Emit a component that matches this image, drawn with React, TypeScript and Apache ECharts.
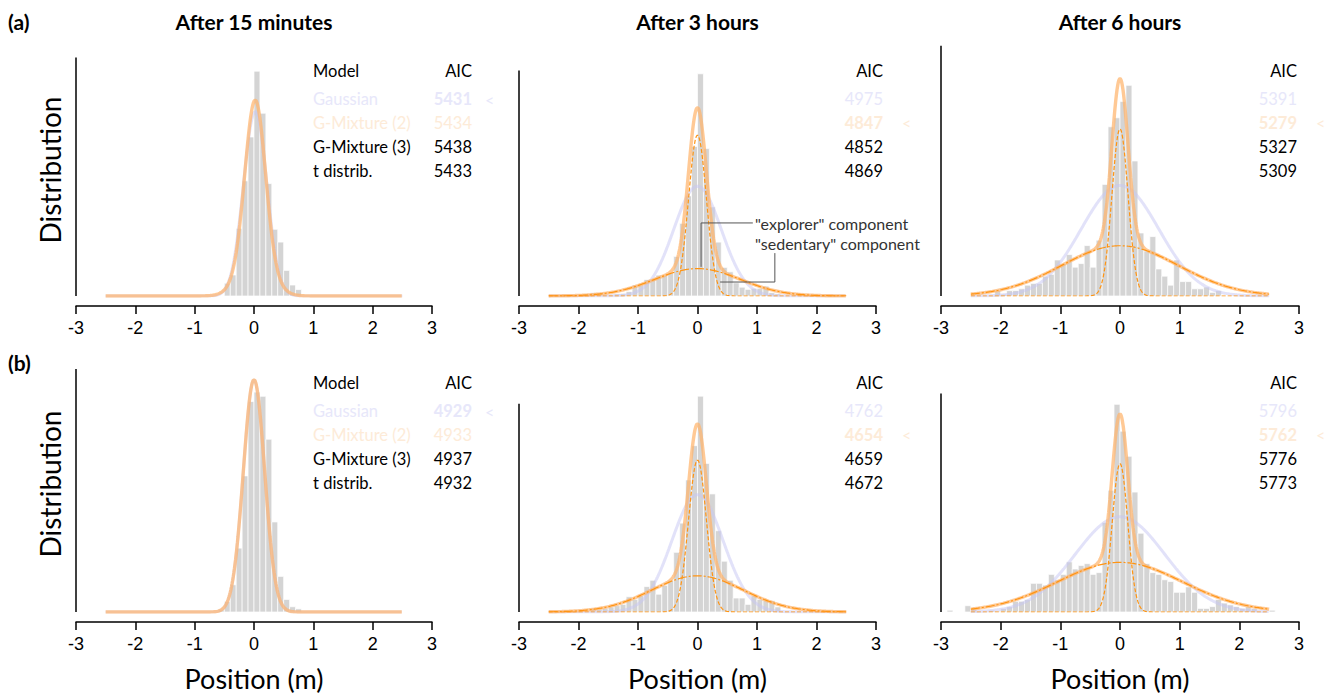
import React, { useEffect, useRef } from "react";
import * as echarts from "echarts";

// ---------------- data ----------------
const panelTitles = ["After 15 minutes", "After 3 hours", "After 6 hours"];
const rowLabels = ["(a)", "(b)"];
const modelNames = ["Gaussian", "G-Mixture (2)", "G-Mixture (3)", "t distrib."];
const xTickMin = -3;
const xTickMax = 3;
const curveMin = -2.5;
const curveMax = 2.5;
const binWidth = 0.1;

// AIC values, panel order: a1, a2, a3, b1, b2, b3
const aicValues = [
  [5431, 5434, 5438, 5433],
  [4975, 4847, 4852, 4869],
  [5391, 5279, 5327, 5309],
  [4929, 4933, 4937, 4932],
  [4762, 4654, 4659, 4672],
  [5796, 5762, 5776, 5773],
];

// histogram densities (bin width 0.1), first bin left edge in histStart
const histStart = [-0.5, -1.9, -2.1, -0.6, -1.8, -2.9];
const histA1 = [0.14, 0.23, 0.74, 1.26, 1.74, 2.46, 2.0, 1.23, 0.73, 0.59, 0.28, 0.12, 0.07];
const histA2 = [
  0.02, 0.03, 0.03, 0.01, 0.01, 0.02, 0.02, 0.04, 0.1, 0.1, 0.15, 0.15, 0.19, 0.19, 0.21, 0.36,
  0.66, 0.91, 1.36, 2.02, 1.34, 0.81, 0.49, 0.26, 0.22, 0.12, 0.08, 0.06, 0.07, 0.07, 0.09, 0.03, 0.02,
];
const histA3 = [
  0.03, 0.01, 0.03, 0.03, 0.04, 0.06, 0.07, 0.07, 0.11, 0.12, 0.2, 0.18, 0.23, 0.16, 0.18, 0.28,
  0.16, 0.31, 0.62, 0.94, 0.99, 1.08, 1.17, 0.75, 0.35, 0.25, 0.33, 0.15, 0.11, 0.06, 0.2, 0.08,
  0.08, 0.04, 0.04, 0.05, 0.02, 0.03,
];
const histB1 = [0.02, 0.1, 0.26, 0.61, 1.3, 2.01, 2.1, 2.06, 1.65, 0.86, 0.34, 0.12, 0.05, 0.03];
const histB2 = [
  0.03, 0.02, 0.03, 0.04, 0.05, 0.06, 0.12, 0.1, 0.13, 0.2, 0.25, 0.14, 0.21, 0.25, 0.47, 0.7,
  1.04, 1.31, 1.7, 1.17, 0.93, 0.64, 0.4, 0.25, 0.11, 0.11, 0.06, 0.13, 0.1, 0.09, 0.09, 0.04,
];
const histB3 = [
  0.01, 0, 0, 0.035, 0.02, 0, 0, 0.01, 0.005, 0.02, 0.03, 0.06, 0.06, 0.07, 0.16, 0.16, 0.15,
  0.21, 0.18, 0.21, 0.28, 0.24, 0.26, 0.27, 0.21, 0.22, 0.5, 0.68, 1.16, 1.01, 0.87, 0.67, 0.44,
  0.27, 0.22, 0.21, 0.18, 0.17, 0.11, 0.11, 0.14, 0.11, 0.02, 0.02, 0.03, 0.07, 0.05, 0.04, 0.03,
  0.02, 0.03, 0.02, 0, 0, 0.01,
];
const histograms = [histA1, histA2, histA3, histB1, histB2, histB3];

// fitted model parameters
const gaussMean = [0.02, 0, 0, 0, 0, 0];
const gaussSd = [0.198, 0.4, 0.65, 0.18, 0.432, 0.75];
const mixMean = [0.02, 0, 0, 0, 0, 0];
const mixWeight = [
  [0.75, 0.25],
  [0.55, 0.45],
  [0.314, 0.686],
  [0.5, 0.5],
  [0.45, 0.55],
  [0.27, 0.73],
];
const mixSd = [
  [0.17, 0.26],
  [0.15, 0.72],
  [0.135, 0.98],
  [0.175, 0.185],
  [0.15, 0.77],
  [0.13, 1.05],
];
const showComponents = [false, true, true, false, true, true];

// y-axis extents (density units)
const yAxisMax = [2.801, 2.327, 1.422, 2.445, 2.016, 1.43];
const yLineTop = [2.61, 2.05, 1.39, 2.32, 1.64, 1.22];

// annotation leaders in panel a2 (data coords)
const explorerLeader = [
  [0.06, 0.265],
  [0.06, 0.664],
  [0.93, 0.664],
];
const sedentaryLeader = [
  [0.38, 0.127],
  [1.3, 0.127],
  [1.3, 0.39],
];

// ---------------- layout ----------------
const panelLeft = [76, 519, 941];
const panelWidth = [356, 357, 358];
const rowBase = [296, 612];
const gridTop = [40, 356];
const tableHeaderY = [71, 383];
const tableRowDy = [28, 51.5, 76, 99.5];
const nameX = 313;
const aicRight = [472, 883, 1297];
const markX = [485, 902, 1316];

const FONT = "Lato, 'Noto Sans', sans-serif";
const rowTextColors = ["#e7e7fa", "#fdebd8", "#000", "#000"];

function normPdf(x: number, m: number, s: number) {
  return Math.exp(-((x - m) * (x - m)) / (2 * s * s)) / (s * Math.sqrt(2 * Math.PI));
}

function curvePoints(fn: (x: number) => number) {
  const pts: number[][] = [];
  const n = 500;
  for (let i = 0; i <= n; i++) {
    const x = curveMin + ((curveMax - curveMin) * i) / n;
    pts.push([x, fn(x)]);
  }
  return pts;
}

function buildOption() {
  const grids: any[] = [];
  const xAxes: any[] = [];
  const yAxes: any[] = [];
  const series: any[] = [];
  const graphics: any[] = [];

  for (let p = 0; p < 6; p++) {
    const row = Math.floor(p / 3);
    const col = p % 3;
    grids.push({
      left: panelLeft[col],
      width: panelWidth[col],
      top: gridTop[row],
      height: rowBase[row] - gridTop[row],
    });
    xAxes.push({
      gridIndex: p,
      type: "value",
      min: xTickMin,
      max: xTickMax,
      interval: 1,
      offset: 10,
      splitLine: { show: false },
      axisLine: { show: true, onZero: false, lineStyle: { color: "#000", width: 1.5 } },
      axisTick: { show: true, length: 8, lineStyle: { color: "#000", width: 1.5 } },
      axisLabel: {
        color: "#000",
        fontSize: 18,
        fontFamily: "'Liberation Sans', Arial, sans-serif",
        margin: 13,
      },
    });
    yAxes.push({
      gridIndex: p,
      type: "value",
      min: 0,
      max: yAxisMax[p],
      show: false,
    });

    const hist = histograms[p];
    const histData = hist
      .map((h, i) => [histStart[p] + i * binWidth, h])
      .filter((d) => d[1] > 0);
    series.push({
      type: "custom",
      xAxisIndex: p,
      yAxisIndex: p,
      data: histData,
      encode: { x: 0, y: 1 },
      silent: true,
      z: 1,
      renderItem: (params: any, api: any) => {
        const x0 = api.value(0);
        const h = api.value(1);
        const a = api.coord([x0, 0]);
        const b = api.coord([x0 + binWidth, h]);
        return {
          type: "rect",
          shape: { x: a[0], y: b[1], width: b[0] - a[0], height: a[1] - b[1] },
          style: { fill: "#d4d4d4", stroke: "#ffffff", lineWidth: 0.7 },
        };
      },
    });

    // Gaussian fit
    series.push({
      type: "line",
      xAxisIndex: p,
      yAxisIndex: p,
      data: curvePoints((x) => normPdf(x, gaussMean[p], gaussSd[p])),
      showSymbol: false,
      silent: true,
      z: 2,
      lineStyle: { color: "#c6c6f4", width: 3, opacity: 0.5 },
    });
    // 2-component mixture
    const w = mixWeight[p];
    const s = mixSd[p];
    series.push({
      type: "line",
      xAxisIndex: p,
      yAxisIndex: p,
      data: curvePoints(
        (x) => w[0] * normPdf(x, mixMean[p], s[0]) + w[1] * normPdf(x, mixMean[p], s[1])
      ),
      showSymbol: false,
      silent: true,
      z: 3,
      lineStyle: { color: "#ffb46c", width: 3.4, opacity: 0.72 },
    });
    if (showComponents[p]) {
      series.push({
        type: "line",
        xAxisIndex: p,
        yAxisIndex: p,
        data: curvePoints((x) => w[0] * normPdf(x, mixMean[p], s[0])),
        showSymbol: false,
        silent: true,
        z: 4,
        lineStyle: { color: "#ff9412", width: 1.2, type: [4, 2] },
      });
      series.push({
        type: "line",
        xAxisIndex: p,
        yAxisIndex: p,
        data: curvePoints((x) => w[1] * normPdf(x, mixMean[p], s[1])),
        showSymbol: false,
        silent: true,
        z: 4,
        lineStyle: { color: "#ff9412", width: 1.2, type: [9, 2, 2, 2] },
      });
    }
    // y axis line from 0 to its top
    series.push({
      type: "line",
      xAxisIndex: p,
      yAxisIndex: p,
      data: [
        [xTickMin, 0],
        [xTickMin, yLineTop[p]],
      ],
      showSymbol: false,
      silent: true,
      clip: false,
      z: 5,
      lineStyle: { color: "#000", width: 1.5 },
    });
    if (p === 1) {
      [explorerLeader, sedentaryLeader].forEach((ld) => {
        series.push({
          type: "line",
          xAxisIndex: p,
          yAxisIndex: p,
          data: ld,
          showSymbol: false,
          silent: true,
          z: 6,
          lineStyle: { color: "#555", width: 1 },
        });
      });
    }

    // AIC table
    const aic = aicValues[p];
    const best = aic.indexOf(Math.min(...aic));
    const hy = tableHeaderY[row];
    if (col === 0) {
      graphics.push({
        type: "text",
        x: nameX,
        y: hy,
        style: {
          text: "Model",
          fontSize: 16.5,
          fontFamily: FONT,
          fill: "#000",
          textVerticalAlign: "middle",
        },
      });
    }
    graphics.push({
      type: "text",
      x: aicRight[col],
      y: hy,
      style: {
        text: "AIC",
        fontSize: 16.5,
        fontFamily: FONT,
        fill: "#000",
        textAlign: "right",
        textVerticalAlign: "middle",
      },
    });
    aic.forEach((v, i) => {
      const y = hy + tableRowDy[i];
      if (col === 0) {
        graphics.push({
          type: "text",
          x: nameX,
          y,
          style: {
            text: modelNames[i],
            fontSize: 16.5,
            fontFamily: FONT,
            fill: rowTextColors[i],
            textVerticalAlign: "middle",
          },
        });
      }
      graphics.push({
        type: "text",
        x: aicRight[col],
        y,
        style: {
          text: String(v),
          fontSize: 16.5,
          fontFamily: FONT,
          fontWeight: i === best ? "bold" : "normal",
          fill: rowTextColors[i],
          textAlign: "right",
          textVerticalAlign: "middle",
        },
      });
      if (i === best) {
        graphics.push({
          type: "text",
          x: markX[col],
          y,
          style: {
            text: "<",
            fontSize: 16,
            fontFamily: FONT,
            fill: rowTextColors[i],
            textVerticalAlign: "middle",
          },
        });
      }
    });
  }

  // titles
  panelTitles.forEach((t, c) => {
    graphics.push({
      type: "text",
      x: panelLeft[c] + panelWidth[c] / 2,
      y: 21,
      style: {
        text: t,
        fontSize: 21,
        fontWeight: "bold",
        fontFamily: FONT,
        fill: "#000",
        textAlign: "center",
        textVerticalAlign: "middle",
      },
    });
    graphics.push({
      type: "text",
      x: panelLeft[c] + panelWidth[c] / 2,
      y: 678,
      style: {
        text: "Position (m)",
        fontSize: 27,
        fontFamily: FONT,
        fill: "#000",
        textAlign: "center",
        textVerticalAlign: "middle",
      },
    });
  });
  const rowLabelY = [21, 362];
  const distY = [170, 484];
  rowLabels.forEach((t, r) => {
    graphics.push({
      type: "text",
      x: 8,
      y: rowLabelY[r],
      style: {
        text: t,
        fontSize: 21,
        fontWeight: "bold",
        fontFamily: FONT,
        fill: "#000",
        textVerticalAlign: "middle",
      },
    });
    graphics.push({
      type: "text",
      x: 50,
      y: distY[r],
      rotation: Math.PI / 2,
      style: {
        text: "Distribution",
        fontSize: 28,
        fontFamily: FONT,
        fill: "#000",
        textAlign: "center",
        textVerticalAlign: "middle",
      },
    });
  });

  graphics.push({
    type: "text",
    x: 755,
    y: 223,
    style: {
      text: '"explorer" component',
      fontSize: 16,
      fontFamily: FONT,
      fill: "#333",
      textVerticalAlign: "middle",
    },
  });
  graphics.push({
    type: "text",
    x: 755,
    y: 243,
    style: {
      text: '"sedentary" component',
      fontSize: 16,
      fontFamily: FONT,
      fill: "#333",
      textVerticalAlign: "middle",
    },
  });

  return {
    animation: false,
    backgroundColor: "#fff",
    grid: grids,
    xAxis: xAxes,
    yAxis: yAxes,
    series,
    graphic: graphics,
  };
}

export default function App() {
  const ref = useRef<HTMLDivElement>(null);
  useEffect(() => {
    if (!ref.current) return;
    const chart = echarts.init(ref.current, null, { renderer: "svg" });
    chart.setOption(buildOption() as any);
    return () => chart.dispose();
  }, []);
  return (
    <div
      ref={ref}
      style={{ position: "fixed", left: 0, top: 0, width: 1330, height: 693, background: "#fff" }}
    />
  );
}
